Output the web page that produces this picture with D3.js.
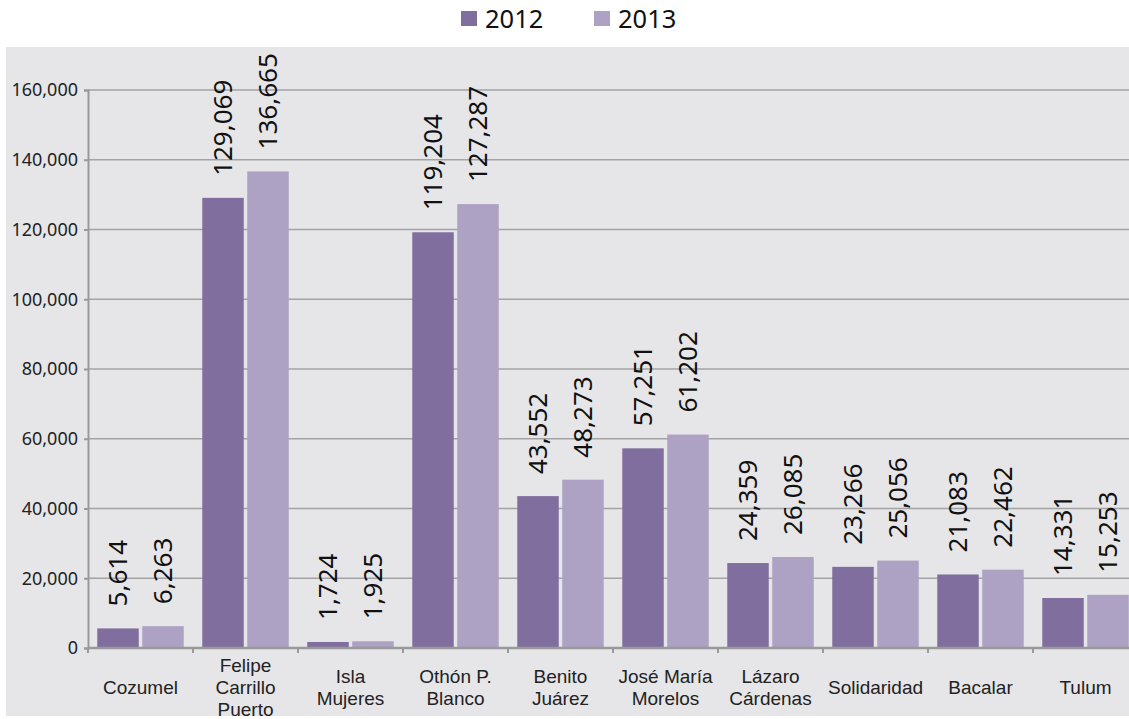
<!DOCTYPE html>
<html><head><meta charset="utf-8">
<script src="https://cdn.jsdelivr.net/npm/d3@7"></script>
<style>body{margin:0;background:#fff;}svg{display:block;font-family:"Noto Sans",sans-serif;}</style>
</head><body><svg id="c" width="1129" height="719"></svg>
<script>
const categories = [["Cozumel"],["Felipe","Carrillo","Puerto"],["Isla","Mujeres"],["Othón P.","Blanco"],["Benito","Juárez"],["José María","Morelos"],["Lázaro","Cárdenas"],["Solidaridad"],["Bacalar"],["Tulum"]];
const series = ["2012","2013"];
const values2012 = [5614,129069,1724,119204,43552,57251,24359,23266,21083,14331];
const values2013 = [6263,136665,1925,127287,48273,61202,26085,25056,22462,15253];
const yTicks = [0,20000,40000,60000,80000,100000,120000,140000,160000];
const colors = ["#7f6e9e","#ada2c3"];

(function(){
const svg = d3.select("#c");
const left = 88, bottom = 648, topY = 90;
const step = 105;
const keys = categories.map((c,i)=>i);
const x = d3.scaleBand().domain(keys).range([left, left+step*keys.length]).paddingInner(0).paddingOuter(0);
const x1 = d3.scaleBand().domain(series).range([0, step]).paddingInner(0.078).paddingOuter(0.206);
const y = d3.scaleLinear().domain([0,160000]).range([bottom, topY]);

svg.append("rect").attr("x",6).attr("y",47).attr("width",1123).attr("height",669).attr("fill","#e6e6e8");

svg.append("g").selectAll("line").data(yTicks.slice(1)).join("line")
  .attr("x1",left).attr("x2",1129).attr("y1",d=>y(d)).attr("y2",d=>y(d))
  .attr("stroke","#a3a3a3").attr("stroke-width",1.5);

const yAxis = svg.append("g").attr("transform",`translate(${left},0)`)
  .call(d3.axisLeft(y).tickValues(yTicks).tickFormat(d3.format(",")).tickSize(4).tickPadding(6));
yAxis.select(".domain").attr("stroke","#999").attr("stroke-width",2);
yAxis.selectAll(".tick line").attr("stroke","#999").attr("stroke-width",2);
yAxis.selectAll("text").attr("font-size",18).attr("fill","#222").attr("font-family","Noto Sans");

const data = keys.map(i=>({i, vals:[values2012[i], values2013[i]]}));
const groups = svg.append("g").selectAll("g").data(data).join("g")
  .attr("transform",d=>`translate(${x(d.i)},0)`);
groups.selectAll("rect").data(d=>d.vals.map((v,k)=>({v,k}))).join("rect")
  .attr("x",d=>x1(series[d.k])).attr("width",x1.bandwidth())
  .attr("y",d=>y(d.v)).attr("height",d=>bottom-y(d.v)).attr("fill",d=>colors[d.k]);
groups.selectAll("text").data(d=>d.vals.map((v,k)=>({v,k}))).join("text")
  .attr("transform",d=>`translate(${x1(series[d.k])+x1.bandwidth()/2},${y(d.v)-22}) rotate(-90)`)
  .attr("dy","0.36em").attr("text-anchor","start").attr("font-size",26).attr("fill","#111")
  .text(d=>d3.format(",")(d.v));

const xAxis = svg.append("g");
xAxis.append("line").attr("x1",left).attr("x2",1129).attr("y1",bottom).attr("y2",bottom).attr("stroke","#999").attr("stroke-width",2.5);
xAxis.selectAll("line.t").data(d3.range(keys.length+1)).join("line").attr("class","t")
  .attr("x1",d=>left+d*step).attr("x2",d=>left+d*step).attr("y1",bottom).attr("y2",bottom+5)
  .attr("stroke","#999").attr("stroke-width",2);
const lab = xAxis.selectAll("text").data(categories).join("text")
  .attr("x",(d,i)=>x(i)+step/2).attr("text-anchor","middle")
  .attr("font-family","'Liberation Sans',Arial,sans-serif").attr("font-size",19).attr("fill","#222");
lab.each(function(d){
  const n=d.length, lh=22, cx=d3.select(this).attr("x");
  d3.select(this).selectAll("tspan").data(d).join("tspan")
    .attr("x",cx)
    .attr("y",(t,j)=>687+(j-(n-1)/2)*lh).attr("dy","0.35em").text(t=>t);
});

const leg = svg.append("g");
const legX = [461,594];
series.forEach((s,k)=>{
  leg.append("rect").attr("x",legX[k]).attr("y",11).attr("width",16).attr("height",15).attr("fill",colors[k]);
  leg.append("text").attr("x",legX[k]+24).attr("y",19).attr("dy","0.36em").attr("font-size",25.5).attr("fill","#111").text(s);
});
})();
</script></body></html>
